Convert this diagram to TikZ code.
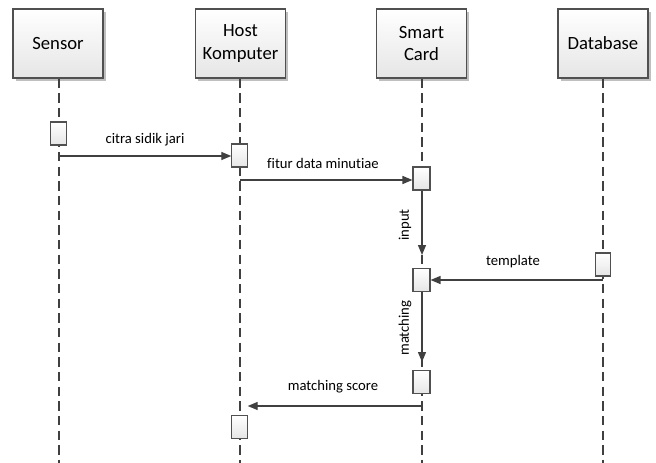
\documentclass[tikz,border=0pt]{standalone}
\usepackage{fontspec}
\setmainfont{Carlito}[Ligatures={NoCommon}]
\usetikzlibrary{arrows.meta,shadows}
\definecolor{ln}{HTML}{404040}
\definecolor{bd}{HTML}{505050}
\tikzset{
  head/.style={draw=bd, line width=0.8pt, top color=white, bottom color=black!10,
    minimum width=67.5pt, minimum height=51.75pt, align=center, font=\fontsize{14}{17}\selectfont,
    drop shadow={shadow xshift=2.2pt, shadow yshift=-2.2pt, fill=black!25, opacity=1}},
  act/.style={draw=bd, line width=0.8pt, top color=white, bottom color=black!10,
    minimum width=11.5pt, minimum height=17.25pt, inner sep=0pt},
  life/.style={draw=ln, line width=2.2pt, dash pattern=on 7pt off 4pt},
  msg/.style={draw=ln, line width=1pt, -{Triangle[length=7.5pt,width=6pt]}},
  lbl/.style={font=\fontsize{11}{13}\selectfont, text=black},
}
\begin{document}
\begin{tikzpicture}[x=0.75pt,y=-0.75pt]
\useasboundingbox (0,0) rectangle (656,463);
% headers
\node[head] (sensor) at (58,43.5) {Sensor};
\node[head] (host) at (240.5,43.5) {Host\\Komputer};
\node[head] (card) at (421.5,43.5) {Smart\\Card};
\node[head] (db) at (603,43.5) {Database};
% lifeline ends
\coordinate (sensorEnd) at (59,463);
\coordinate (hostEnd) at (240,463);
\coordinate (cardEnd) at (422,463);
\coordinate (dbEnd) at (603,463);
\draw[life] (sensor.south -| sensorEnd) -- (sensorEnd);
\draw[life] (host.south -| hostEnd) -- (hostEnd);
\draw[life] (card.south -| cardEnd) -- (cardEnd);
\draw[life] (db.south -| dbEnd) -- (dbEnd);
% activations
\node[act] (sa1) at (58.5,133.5) {};
\node[act] (ha1) at (239.5,155.5) {};
\node[act, minimum width=12.75pt] (ca1) at (421.5,178.5) {};
\node[act, minimum width=12.75pt] (ca2) at (421.5,280) {};
\node[act] (db1) at (603,264.5) {};
\node[act, minimum width=12.75pt] (ca3) at (421.5,382) {};
\node[act] (ha2) at (239.5,427) {};
% messages
\coordinate (m1) at (59,156);
\draw[msg] (m1) -- (m1 -| ha1.west);
\node[lbl] (l1) at (145,140) {citra sidik jari};
\coordinate (m2) at (240,180);
\draw[msg] (m2) -- (m2 -| ca1.west);
\node[lbl] (l2) at (323,163) {fitur data minutiae};
\coordinate (m3) at (422,255);
\draw[msg] (ca1.south -| m3) -- (m3);
\node[lbl, rotate=90] (l3) at (405,225) {input};
\coordinate (m4) at (603,280);
\draw[msg] (m4) -- (m4 -| ca2.east);
\node[lbl] (l4) at (513,262) {template};
\coordinate (m5) at (422,362);
\draw[msg] (ca2.south -| m5) -- (m5);
\node[lbl, rotate=90] (l5) at (405,328) {matching};
\coordinate (m6) at (422,406);
\draw[msg] (m6) -- (m6 -| ha2.east);
\node[lbl] (l6) at (333,387) {matching score};
\end{tikzpicture}
\end{document}
